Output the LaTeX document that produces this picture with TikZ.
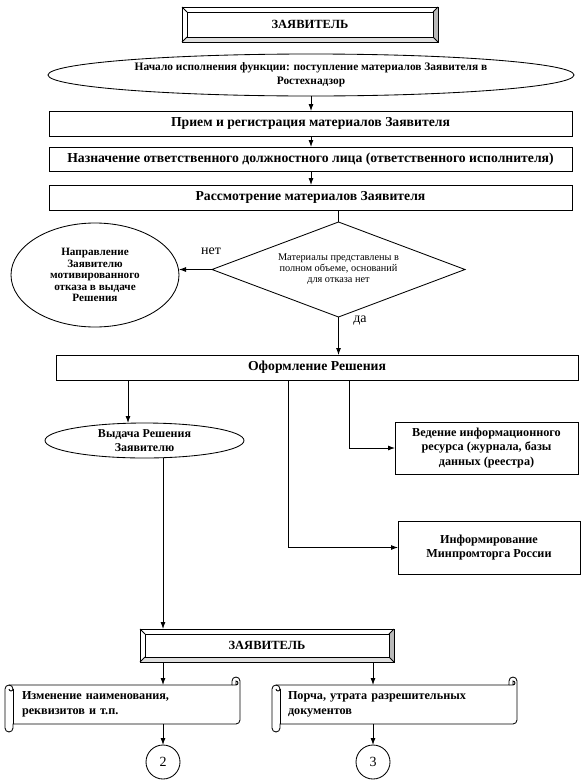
\documentclass[tikz,border=0pt]{standalone}
\usepackage{fontspec}
\setmainfont{Liberation Serif}
\usetikzlibrary{shapes.geometric,arrows.meta,calc}
\newcommand\bevelframe[4]{%
  \begin{scope}[shift={(#1.north west)}]
    \fill[gray!55] (#2,0) -- (#2,#3) -- (#2-#4,#3-#4) -- (#2-#4,#4) -- cycle;
    \fill[gray!25] (0,#3) -- (#2,#3) -- (#2-#4,#3-#4) -- (#4,#3-#4) -- cycle;
    \draw (0,0) rectangle (#2,#3);
    \draw (#4,#4) rectangle (#2-#4,#3-#4);
    \draw (0,0) -- (#4,#4) (#2,0) -- (#2-#4,#4) (0,#3) -- (#4,#3-#4) (#2,#3) -- (#2-#4,#3-#4);
  \end{scope}}
\newcommand\scrollframe[3]{%
  \begin{scope}[shift={(#1.north west)}]
    \draw (-8,4) .. controls (-8,1.8) and (-6.2,0) .. (-4,0)
      -- (#2-8,0) -- (#2-8,-4)
      .. controls (#2-8,-6.2) and (#2-6.2,-8) .. (#2-4,-8)
      .. controls (#2-1.8,-8) and (#2,-6.2) .. (#2,-4)
      -- (#2,#3-4)
      .. controls (#2,#3-1.8) and (#2-1.8,#3) .. (#2-4,#3)
      -- (0,#3) -- (0,#3+4)
      .. controls (0,#3+6.2) and (-1.8,#3+8) .. (-4,#3+8)
      .. controls (-6.2,#3+8) and (-8,#3+6.2) .. (-8,#3+4)
      -- cycle;
    \draw (-4,0) .. controls (-1.8,0) and (0,1.8) .. (0,4)
      .. controls (0,5.1) and (-0.9,6) .. (-2,6)
      .. controls (-3.1,6) and (-4,5.1) .. (-4,4);
    \draw (0,4) -- (0,#3);
    \draw (#2-8,0) -- (#2-4,0)
      .. controls (#2-2.9,0) and (#2-2,-0.9) .. (#2-2,-2)
      .. controls (#2-2,-3.1) and (#2-2.9,-4) .. (#2-4,-4) -- (#2-4,0);
  \end{scope}}
\newcommand\lowered[2]{\raisebox{#1}{\begin{tabular}{@{}c@{}}#2\end{tabular}}}
\begin{document}
\begin{tikzpicture}[x=1pt,y=-1pt,line width=0.85pt,
  arr/.style={-{Latex[length=7pt,width=5pt]}},
  bfont/.style={font=\bfseries\fontsize{13.7}{14.5}\selectfont},
  sfont/.style={font=\bfseries\fontsize{12.2}{14.5}\selectfont},
  pbox/.style={draw,rectangle,inner sep=0pt,outer sep=0pt,bfont},
  rbox/.style={draw,rectangle,inner sep=0pt,outer sep=0pt,align=center,sfont},
  bevelbox/.style={rectangle,inner sep=0pt,outer sep=0pt,font=\bfseries\fontsize{12.5}{14}\selectfont},
  oval/.style={draw,ellipse,inner sep=0pt,outer sep=0pt,align=center},
  scrollbody/.style={rectangle,inner ysep=0pt,outer sep=0pt,anchor=north west,align=left,sfont},
  numcircle/.style={draw,circle,minimum size=34pt,inner sep=0pt,outer sep=0pt,font=\fontsize{14}{14}\selectfont},
  lbl/.style={inner sep=0pt,font=\fontsize{14}{14}\selectfont}]
\useasboundingbox (0,0) rectangle (586,782);

% nodes
\node[bevelbox,minimum width=256pt,minimum height=35pt] (z1) at (310,24.5) {ЗАЯВИТЕЛЬ};
\node[oval,minimum width=526pt,minimum height=42pt,font=\bfseries\fontsize{11.4}{14}\selectfont] (e1) at (311,75)
  {Начало исполнения функции: поступление материалов Заявителя в\\Ростехнадзор};
\node[pbox,minimum width=523pt,minimum height=25pt] (b1) at (310.5,123.5) {Прием и регистрация материалов Заявителя};
\node[pbox,minimum width=523pt,minimum height=24pt] (b2) at (310.5,159) {Назначение ответственного должностного лица (ответственного исполнителя)};
\node[pbox,minimum width=523pt,minimum height=25pt] (b3) at (310.5,197.5) {Рассмотрение материалов Заявителя};
\node[draw,diamond,shape aspect=2.66,minimum width=253pt,minimum height=95pt,inner sep=0pt,outer sep=0pt,
  font=\fontsize{10.3}{10.8}\selectfont] (d1) at (338.5,269.5)
  {\lowered{-5pt}{Материалы представлены в\\полном объеме, оснований\\для отказа нет}};
\node[oval,minimum width=168pt,minimum height=104pt,font=\bfseries\fontsize{11.2}{11.5}\selectfont] (e2) at (95,275)
  {Направление\\Заявителю\\мотивированного\\отказа в выдаче\\Решения};
\node[lbl] (no) at (211,251) {нет};
\node[lbl] (yes) at (360,321) {да};
\node[pbox,minimum width=522pt,minimum height=25pt] (b4) at (317,367.5) {Оформление Решения};
\node[oval,minimum width=199pt,minimum height=35pt,inner ysep=-2pt,font=\bfseries\fontsize{12}{14}\selectfont] (e3) at (144.5,440.5) {Выдача Решения\\Заявителю};
\node[rbox,minimum width=183pt,minimum height=52pt] (i1) at (486.5,448) {Ведение информационного\\ресурса (журнала, базы\\данных (реестра)};
\node[rbox,minimum width=182pt,minimum height=53pt] (i2) at (489,547.5) {\lowered{4pt}{Информирование\\Минпромторга России}};
\node[bevelbox,minimum width=254pt,minimum height=33pt] (z2) at (267,645.5) {ЗАЯВИТЕЛЬ};
\node[scrollbody,minimum width=227pt,minimum height=39pt,inner xsep=9pt,text width=209pt] (s1) at (13,685)
  {Изменение наименования,\\реквизитов и т.п.};
\node[scrollbody,minimum width=237pt,minimum height=39pt,inner xsep=8pt,text width=221pt] (s2) at (280,685)
  {Порча, утрата разрешительных\\документов};
\node[numcircle] (c2) at (163,762) {2};
\node[numcircle] (c3) at (373,762) {3};

% frames
\bevelframe{z1}{256}{35}{5}
\bevelframe{z2}{254}{33}{5}
\scrollframe{s1}{227}{39}
\scrollframe{s2}{237}{39}

% branch columns
\coordinate (xa) at (128,0);
\coordinate (xb) at (163,0);
\coordinate (xc) at (288,0);
\coordinate (xd) at (349,0);
\coordinate (xe) at (373,0);

% connectors
\draw[arr] (e1.south) -- (e1.south |- b1.north);
\draw[arr] (b1.south -| e1.south) -- (b2.north -| e1.south);
\draw[arr] (b2.south -| e1.south) -- (b3.north -| e1.south);
\draw (b3.south -| d1.north) -- (d1.north);
\draw[arr] (d1.west) -- (e2.east |- d1.west);
\draw[arr] (d1.south) -- (d1.south |- b4.north);
\draw[arr] (b4.south -| xa) -- (xa |- e3.north);
\draw[arr] (b4.south -| xd) |- (i1.west);
\draw[arr] (b4.south -| xc) |- (i2.west);
\draw[arr] (e3.south -| xb) -- (z2.north -| xb);
\draw[arr] (z2.south -| xb) -- (s1.north -| xb);
\draw[arr] (z2.south -| xe) -- (s2.north -| xe);
\draw[arr] (s1.south -| c2.north) -- (c2.north);
\draw[arr] (s2.south -| c3.north) -- (c3.north);
\end{tikzpicture}
\end{document}
